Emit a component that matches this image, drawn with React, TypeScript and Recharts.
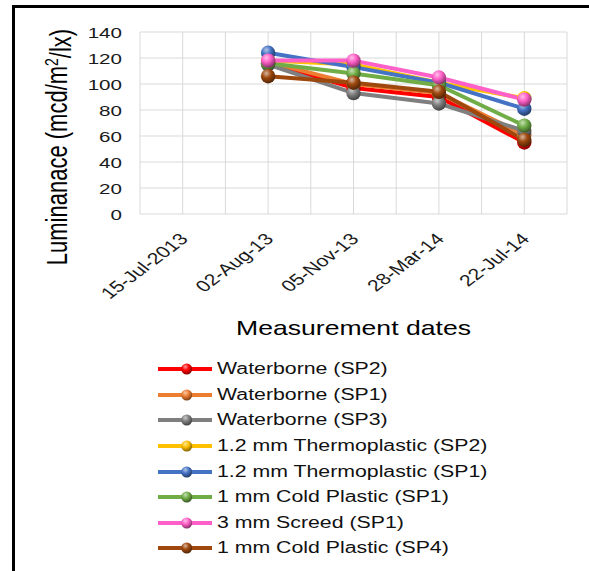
import React from 'react';
import { LineChart, Line, XAxis, YAxis, CartesianGrid, Legend } from 'recharts';

const categories = ['15-Jul-2013', '02-Aug-13', '05-Nov-13', '28-Mar-14', '22-Jul-14'];
const waterborneSP2 = [null, 116, 97, 90, 55];
const waterborneSP1 = [null, 117, 100, 93, 61];
const waterborneSP3 = [null, 115, 93, 85, 64];
const thermoplasticSP2 = [null, 118, 115, 101, 89];
const thermoplasticSP1 = [null, 124, 113, 101, 81];
const coldPlasticSP1 = [null, 116, 108, 99, 68];
const screedSP1 = [null, 118, 118, 105, 88];
const coldPlasticSP4 = [null, 106, 101, 94, 57];

const seriesNames = [
  'Waterborne (SP2)',
  'Waterborne (SP1)',
  'Waterborne (SP3)',
  '1.2 mm Thermoplastic (SP2)',
  '1.2 mm Thermoplastic (SP1)',
  '1 mm Cold Plastic (SP1)',
  '3 mm Screed (SP1)',
  '1 mm Cold Plastic (SP4)',
];
const seriesValues = [
  waterborneSP2,
  waterborneSP1,
  waterborneSP3,
  thermoplasticSP2,
  thermoplasticSP1,
  coldPlasticSP1,
  screedSP1,
  coldPlasticSP4,
];
const seriesColors = ['#FF0000', '#ED7D31', '#7F7F7F', '#FFC000', '#4472C4', '#70AD47', '#FF5FC8', '#9E480E'];
const yTicks = [0, 20, 40, 60, 80, 100, 120, 140];
const xTicks = [-0.5, 0, 0.5, 1, 1.5, 2, 2.5, 3, 3.5, 4, 4.5];

const data = categories.map((c, i) => {
  const row: any = { x: i, name: c };
  seriesValues.forEach((vals, s) => {
    row['s' + s] = vals[i];
  });
  return row;
});

const FONT = '"Liberation Sans", Arial, sans-serif';
const SX = 1.33;

function mix(hex: string, target: number, t: number) {
  const n = parseInt(hex.slice(1), 16);
  const r = (n >> 16) & 255;
  const g = (n >> 8) & 255;
  const b = n & 255;
  const f = (c: number) => Math.round(c + (target - c) * t);
  return `rgb(${f(r)},${f(g)},${f(b)})`;
}

function Grad({ id, color }: { id: string; color: string }) {
  return (
    <radialGradient id={id} cx="0.38" cy="0.3" r="0.72">
      <stop offset="0%" stopColor={mix(color, 255, 0.6)} />
      <stop offset="45%" stopColor={color} />
      <stop offset="100%" stopColor={mix(color, 0, 0.5)} />
    </radialGradient>
  );
}

const makeDot = (s: number) => (props: any) => {
  const { cx, cy, index, value } = props;
  const k = `d${s}-${index}`;
  if (cx == null || cy == null || value == null || (Array.isArray(value) && value[1] == null)) return <g key={k} />;
  return (
    <g key={k}>
      <defs>
        <Grad id={`grad${s}`} color={seriesColors[s]} />
      </defs>
      <circle cx={cx} cy={cy} r={7.2} fill={`url(#grad${s})`} />
    </g>
  );
};

const YTick = (props: any) => {
  const { x, y, payload } = props;
  return (
    <text
      transform={`translate(${x},${y}) scale(${SX},1)`}
      textAnchor="end"
      dy="0.36em"
      fontSize={15.5}
      fontFamily={FONT}
      fill="#1a1a1a"
    >
      {payload.value}
    </text>
  );
};

const XTick = (props: any) => {
  const { x, y, payload } = props;
  const v = payload.value;
  if (!Number.isInteger(v)) return <g />;
  return (
    <text
      transform={`translate(${x + 1},${y + 14}) scale(${SX},1) rotate(-45)`}
      textAnchor="end"
      dy="0.36em"
      fontSize={16}
      fontFamily={FONT}
      fill="#1a1a1a"
    >
      {categories[v]}
    </text>
  );
};

const XTitle = (props: any) => {
  const vb = props.viewBox;
  return (
    <text
      transform={`translate(${vb.x + vb.width / 2},${vb.y + 121}) scale(${SX},1)`}
      textAnchor="middle"
      fontSize={20}
      fontFamily={FONT}
      fill="#000"
    >
      Measurement dates
    </text>
  );
};

const YTitle = (props: any) => {
  const vb = props.viewBox;
  return (
    <text
      transform={`translate(${vb.x + 56},${vb.y + vb.height / 2 + 24}) scale(${SX},1) rotate(-90)`}
      textAnchor="middle"
      dy="0.36em"
      fontSize={22}
      fontFamily={FONT}
      fill="#000"
    >
      Luminanace (mcd/m
      <tspan dy="-0.45em" fontSize={14}>2</tspan>
      <tspan dy="0.45em">/lx)</tspan>
    </text>
  );
};

const LegendContent = () => (
  <div style={{ display: 'flex', flexDirection: 'column' }}>
    {seriesNames.map((n, i) => (
      <div key={n} style={{ display: 'flex', alignItems: 'center', height: 25.6 }}>
        <svg width={56} height={14} style={{ display: 'block', flex: 'none' }}>
          <defs>
            <Grad id={`lgrad${i}`} color={seriesColors[i]} />
          </defs>
          <line x1={0} x2={54} y1={7} y2={7} stroke={seriesColors[i]} strokeWidth={4} />
          <circle cx={28.7} cy={7} r={5.5} fill={`url(#lgrad${i})`} />
        </svg>
        <span
          style={{
            marginLeft: 3,
            fontSize: 16,
            fontFamily: FONT,
            color: '#111',
            whiteSpace: 'nowrap',
            lineHeight: 1,
            display: 'inline-block',
            transform: `scaleX(${SX})`,
            transformOrigin: 'left center',
          }}
        >
          {n}
        </span>
      </div>
    ))}
  </div>
);

export default function App() {
  return (
    <div style={{ position: 'absolute', left: 0, top: 0, width: 589, height: 571, background: '#fff', overflow: 'hidden' }}>
      <div
        style={{
          position: 'absolute',
          left: 12,
          top: 5,
          width: 577,
          height: 566,
          borderTop: '3px solid #000',
          borderLeft: '3px solid #000',
          boxSizing: 'border-box',
        }}
      />
      <div style={{ position: 'absolute', left: 0, top: 0 }}>
        <LineChart width={589} height={571} data={data} margin={{ top: 32, right: 22, left: 0, bottom: 0 }}>
          <CartesianGrid stroke="#d9d9d9" strokeWidth={1} />
          <XAxis
            dataKey="x"
            type="number"
            domain={[-0.5, 4.5]}
            ticks={xTicks}
            interval={0}
            axisLine={false}
            tickLine={false}
            height={357}
            tick={<XTick />}
            label={{ content: <XTitle /> }}
          />
          <YAxis
            type="number"
            domain={[0, 140]}
            ticks={yTicks}
            interval={0}
            width={140}
            axisLine={false}
            tickLine={false}
            tickMargin={12}
            tick={<YTick />}
            label={{ content: <YTitle /> }}
          />
          {seriesNames.map((n, s) => (
            <Line
              key={n}
              dataKey={'s' + s}
              name={n}
              stroke={seriesColors[s]}
              strokeWidth={4}
              dot={makeDot(s)}
              activeDot={false}
              isAnimationActive={false}
              strokeLinejoin="round"
            />
          ))}
          <Legend
            layout="vertical"
            align="center"
            verticalAlign="middle"
            content={<LegendContent />}
            wrapperStyle={{ position: 'absolute', top: 356.5, left: 158, width: 320, height: 210 }}
          />
        </LineChart>
      </div>
    </div>
  );
}
